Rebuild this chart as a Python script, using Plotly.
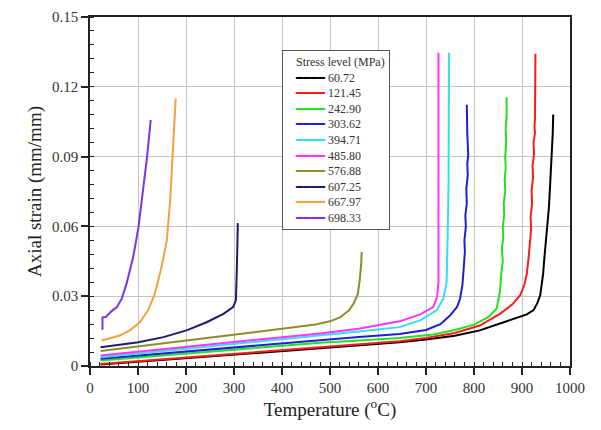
import plotly.graph_objects as go

# ---- data (temperature in °C, axial strain in mm/mm) ----
stress_levels = ["60.72", "121.45", "242.90", "303.62", "394.71",
                 "485.80", "576.88", "607.25", "667.97", "698.33"]
colors = ["#000000", "#ff1a1a", "#22e022", "#1f1fd6", "#33e0e8",
          "#ff33ff", "#8c8c2a", "#1c1c6b", "#f5a040", "#7f33e6"]

T_60 = [22, 100, 200, 300, 400, 479, 560, 645, 700, 760, 812, 850, 882, 910, 924,
        932, 938, 941, 944, 946, 948, 951, 953, 956, 958, 960, 962, 963, 964, 965]
S_60 = [0.0006, 0.0018, 0.0033, 0.0048, 0.0063, 0.0077, 0.0089, 0.0102, 0.0114, 0.0130,
        0.0153, 0.0180, 0.0205, 0.0222, 0.0240, 0.0270, 0.0305, 0.0350, 0.0396, 0.0450,
        0.0500, 0.0539, 0.0600, 0.0680, 0.0754, 0.0830, 0.0900, 0.0960, 0.0998, 0.1081]

T_121 = [22, 100, 200, 300, 400, 479, 560, 645, 700, 760, 812, 854, 880, 896, 905,
         910, 914, 917, 919, 918, 921, 920, 923, 922, 925, 924, 927, 926, 927, 928]
S_121 = [0.0009, 0.0021, 0.0036, 0.0051, 0.0066, 0.0081, 0.0093, 0.0106, 0.0120, 0.0142,
         0.0174, 0.0224, 0.0265, 0.0303, 0.0350, 0.0396, 0.0470, 0.0539, 0.0590, 0.0640,
         0.0700, 0.0754, 0.0810, 0.0860, 0.0910, 0.0960, 0.1000, 0.1030, 0.1060, 0.1342]

T_242 = [22, 100, 200, 300, 400, 479, 560, 645, 715, 760, 800, 830, 847, 854, 857,
         860, 858, 861, 860, 863, 862, 865, 864, 866, 865, 867, 866, 868, 868]
S_242 = [0.0024, 0.0037, 0.0054, 0.0070, 0.0086, 0.0100, 0.0110, 0.0120, 0.0135, 0.0155,
         0.0178, 0.0210, 0.0246, 0.0317, 0.0400, 0.0450, 0.0504, 0.0550, 0.0600, 0.0650,
         0.0700, 0.0750, 0.0800, 0.0850, 0.0900, 0.0960, 0.1020, 0.1077, 0.1155]

T_303 = [22, 100, 200, 300, 400, 479, 560, 645, 700, 730, 750, 765, 771, 776, 779,
         781, 780, 783, 782, 785, 784, 787, 786, 788, 786, 785]
S_303 = [0.0031, 0.0045, 0.0062, 0.0079, 0.0096, 0.0113, 0.0125, 0.0138, 0.0155, 0.0180,
         0.0217, 0.0255, 0.0289, 0.0350, 0.0432, 0.0490, 0.0540, 0.0600, 0.0647, 0.0700,
         0.0760, 0.0820, 0.0870, 0.0905, 0.1000, 0.1123]

T_394 = [22, 100, 200, 300, 400, 479, 560, 645, 688, 722, 736, 743, 745, 746, 747, 748]
S_394 = [0.0038, 0.0054, 0.0074, 0.0093, 0.0113, 0.0132, 0.0148, 0.0167, 0.0196, 0.0239,
         0.0289, 0.0360, 0.0504, 0.0650, 0.0790, 0.1346]

T_485 = [22, 100, 200, 300, 400, 479, 560, 645, 688, 715, 723, 726, 726]
S_485 = [0.0045, 0.0061, 0.0082, 0.0102, 0.0121, 0.0140, 0.0160, 0.0192, 0.0222, 0.0253,
         0.0296, 0.0360, 0.1346]

T_576 = [22, 100, 200, 300, 400, 470, 500, 522, 540, 549, 558, 562, 565, 566]
S_576 = [0.0064, 0.0084, 0.0109, 0.0135, 0.0158, 0.0178, 0.0192, 0.0210, 0.0240, 0.0267,
         0.0310, 0.0370, 0.0440, 0.0490]

T_607 = [22, 49, 101, 153, 201, 243, 278, 298, 304, 306, 307, 308]
S_607 = [0.0081, 0.0088, 0.0102, 0.0124, 0.0153, 0.0188, 0.0224, 0.0253, 0.0282, 0.0425,
         0.0568, 0.0614]

T_667 = [24, 35, 62, 83, 104, 121, 135, 149, 160, 167, 172, 176, 178.5]
S_667 = [0.0110, 0.0117, 0.0131, 0.0153, 0.0188, 0.0239, 0.0310, 0.0425, 0.0539, 0.0711,
         0.0926, 0.1060, 0.1150]

T_698 = [26, 26, 33, 45, 56, 66, 76, 90, 101, 111, 118, 125, 126.5]
S_698 = [0.0156, 0.0210, 0.0211, 0.0236, 0.0253, 0.0289, 0.0353, 0.0468, 0.0597, 0.0754,
         0.0883, 0.1026, 0.1058]

series_T = [T_60, T_121, T_242, T_303, T_394, T_485, T_576, T_607, T_667, T_698]
series_S = [S_60, S_121, S_242, S_303, S_394, S_485, S_576, S_607, S_667, S_698]

x_ticks = [0, 100, 200, 300, 400, 500, 600, 700, 800, 900, 1000]
y_ticks = [0, 0.03, 0.06, 0.09, 0.12, 0.15]
y_tick_text = ["0", "0.03", "0.06", "0.09", "0.12", "0.15"]
legend_title = "Stress level (MPa)"

FONT = "Liberation Serif, Times New Roman, serif"

fig = go.Figure()
for name, tx, sy, col in zip(stress_levels, series_T, series_S, colors):
    fig.add_trace(go.Scatter(x=tx, y=sy, mode="lines", name=name,
                             line=dict(color=col, width=2), showlegend=False))

# compact legend box (real text; line samples are heavy box-drawing glyphs)
pad = "\u00a0\u00a0\u00a0"
rows = [pad + legend_title]
for name, col in zip(stress_levels, colors):
    rows.append(pad + "<span style='font-family:DejaVu Sans Mono;font-size:12px;color:%s'>"
                "\u2501\u2501\u2501\u2501</span> %s" % (col, name))
fig.add_annotation(
    xref="paper", yref="paper", x=0.40, y=0.905, xanchor="left", yanchor="top",
    text="<br>".join(rows), showarrow=False, align="left",
    font=dict(family=FONT, size=12, color="#333"),
    bgcolor="white", bordercolor="#555", borderwidth=1, borderpad=4,
)

axis_common = dict(
    showline=True, mirror=True, linecolor="#222", linewidth=1.5,
    showgrid=True, gridcolor="#c4c4c4", gridwidth=1,
    ticks="outside", ticklen=7, tickwidth=1.5, tickcolor="#222",
    zeroline=False, automargin=False,
    tickfont=dict(family=FONT, size=15, color="#333"),
)

# page body has an 8px margin: figure is sized/margined to land the plot
# area at the same window pixels as the reference
fig.update_layout(
    width=593, height=422,
    margin=dict(l=82, r=31, t=9, b=64),
    paper_bgcolor="white", plot_bgcolor="white",
    font=dict(family=FONT, color="#222"),
    showlegend=False,
    xaxis=dict(
        range=[0, 1000], tickvals=x_ticks,
        title=dict(text="Temperature (<sup>o</sup>C)",
                   font=dict(family=FONT, size=19, color="#222"), standoff=8),
        minor=dict(ticks="inside", ticklen=4, tickwidth=1, tickcolor="#222",
                   dtick=20, showgrid=False),
        **axis_common,
    ),
    yaxis=dict(
        range=[0, 0.15], tickvals=y_ticks, ticktext=y_tick_text,
        title=dict(text="Axial strain (mm/mm)",
                   font=dict(family=FONT, size=19, color="#222"), standoff=5),
        minor=dict(ticks="inside", ticklen=4, tickwidth=1, tickcolor="#222",
                   dtick=0.006, showgrid=False),
        **axis_common,
    ),
)

fig.write_html("out.html")
